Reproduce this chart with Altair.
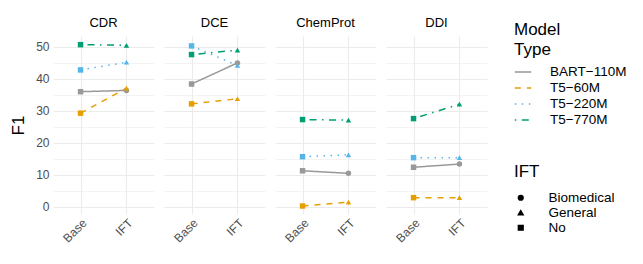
import altair as alt
import pandas as pd

datasets = ["CDR", "DCE", "ChemProt", "DDI"]
models = ["BART−110M", "T5−60M", "T5−220M", "T5−770M"]
stages = ["Base", "IFT"]
ift_types = ["Biomedical", "General", "No"]

# F1 values [Base, IFT] per dataset per model
f1 = {
    "CDR": {"BART−110M": [36.0, 36.4], "T5−60M": [29.3, 37.1], "T5−220M": [42.8, 45.2], "T5−770M": [50.7, 50.5]},
    "DCE": {"BART−110M": [38.4, 45.0], "T5−60M": [32.2, 33.8], "T5−220M": [50.3, 44.2], "T5−770M": [47.6, 49.0]},
    "ChemProt": {"BART−110M": [11.3, 10.5], "T5−60M": [0.3, 1.5], "T5−220M": [15.7, 16.3], "T5−770M": [27.3, 27.1]},
    "DDI": {"BART−110M": [12.4, 13.4], "T5−60M": [2.9, 2.9], "T5−220M": [15.4, 15.4], "T5−770M": [27.6, 32.1]},
}
ift_of_model = {"BART−110M": "Biomedical", "T5−60M": "General", "T5−220M": "General", "T5−770M": "General"}

rows = []
for d in datasets:
    for m in models:
        for i, s in enumerate(stages):
            rows.append({
                "Dataset": d, "Model": m, "Stage": s, "F1": f1[d][m][i],
                "IFT": "No" if s == "Base" else ift_of_model[m],
            })
df = pd.DataFrame(rows)

colors = ["#999999", "#E69F00", "#56B4E9", "#009E73"]
dashes = [[1, 0], [6, 6], [1.5, 5.5], [1.5, 5.5, 7, 5.5]]

x_enc = alt.X("Stage:N", sort=stages, title=None,
              scale=alt.Scale(type="point", padding=0.6),
              axis=alt.Axis(labelAngle=-45, labelAlign="right", labelBaseline="top",
                            labelFontSize=12, labelColor="#4D4D4D", ticks=False, domain=False,
                            grid=True, gridColor="#EBEBEB", gridWidth=1.1, labelPadding=3))
y_enc = alt.Y("F1:Q", title="F1",
              scale=alt.Scale(domain=[-2.2, 53.4], nice=False, zero=False),
              axis=alt.Axis(values=[0, 5, 10, 15, 20, 25, 30, 35, 40, 45, 50],
                            labelExpr="datum.value % 10 === 0 ? datum.label : ''",
                            labelFontSize=12, labelColor="#4D4D4D", ticks=False, domain=False,
                            grid=True, gridColor="#EBEBEB",
                            gridWidth={"condition": {"test": "datum.value % 10 === 0", "value": 1.1}, "value": 0.6},
                            titleFontSize=17, titleFontWeight="normal", titleColor="black",
                            titlePadding=8, labelPadding=4))

model_legend = alt.Legend(title=["Model", "Type"], orient="none", legendX=461, legendY=-14,
                          symbolType="stroke", symbolSize=270, symbolStrokeWidth=1.5,
                          labelFontSize=13.5, titleFontSize=17, titleFontWeight="normal",
                          titleLineHeight=20, rowPadding=-0.7, titlePadding=4, labelOffset=18)

base = alt.Chart(df)

lines = base.mark_line(strokeWidth=1.5).encode(
    x=x_enc, y=y_enc,
    color=alt.Color("Model:N", sort=models, scale=alt.Scale(domain=models, range=colors),
                    legend=model_legend),
    strokeDash=alt.StrokeDash("Model:N", sort=models, scale=alt.Scale(domain=models, range=dashes),
                              legend=model_legend),
)

points = base.mark_point(filled=True, size=30, opacity=1).encode(
    x=x_enc, y=y_enc,
    fill=alt.Fill("Model:N", sort=models, scale=alt.Scale(domain=models, range=colors), legend=None),
    shape=alt.Shape("IFT:N", scale=alt.Scale(domain=ift_types, range=["circle", "triangle-up", "square"]),
                    legend=alt.Legend(title="IFT", orient="none", legendX=461, legendY=128,
                                      symbolFillColor="black", symbolStrokeColor="black", symbolSize=22,
                                      labelFontSize=13.5, titleFontSize=17, titleFontWeight="normal",
                                      rowPadding=0, titlePadding=10, labelOffset=21)),
)

chart = alt.layer(lines, points).properties(width=101, height=178).facet(
    column=alt.Column("Dataset:N", sort=datasets, title=None,
                      header=alt.Header(labelFontSize=13, labelColor="black", labelPadding=6))
).properties(
    spacing=10, padding={"left": 1, "top": 9, "right": 5, "bottom": 5}
).configure(
    font="Liberation Sans", view=alt.ViewConfig(strokeWidth=0, stroke="transparent")
)

chart.save("out.html", embed_options={"renderer": "svg", "actions": False})
